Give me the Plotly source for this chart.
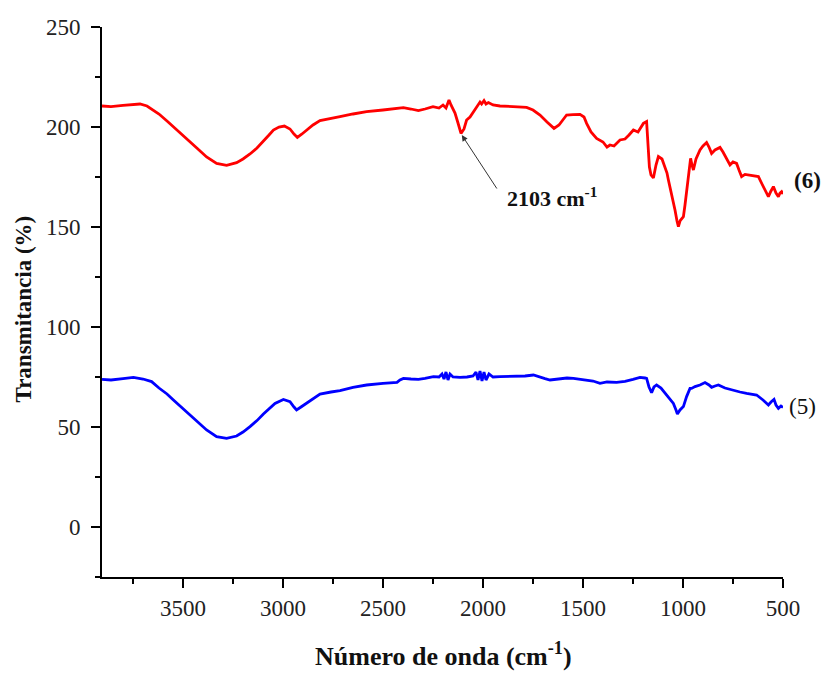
import plotly.graph_objects as go

# Sample (6) - red
wn6 = [3905, 3860, 3800, 3750, 3715, 3680, 3657, 3620, 3580, 3548, 3510, 3465, 3420, 3382, 3332, 3282,
       3232, 3200, 3165, 3130, 3098, 3070, 3048, 3020, 2993, 2965, 2945, 2928, 2905, 2882, 2850, 2815,
       2760, 2715, 2650, 2582, 2500, 2440, 2398, 2360, 2323, 2290, 2250, 2220, 2200, 2185, 2170, 2160,
       2150, 2140, 2125, 2110, 2095, 2082, 2065, 2048, 2030, 2015, 2007, 1995, 1985, 1973, 1950, 1915,
       1850, 1782, 1750, 1715, 1680, 1645, 1620, 1582, 1550, 1515, 1495, 1482, 1460, 1432, 1400, 1380,
       1365, 1345, 1315, 1290, 1270, 1248, 1225, 1198, 1182, 1175, 1168, 1160, 1148, 1135, 1123, 1105,
       1090, 1080, 1073, 1065, 1057, 1048, 1040, 1030, 1023, 1015, 998, 990, 982, 970, 962, 955,
       948, 935, 915, 900, 882, 870, 857, 840, 815, 800, 780, 765, 750, 732, 720, 707,
       690, 665, 645, 623, 605, 590, 573, 560, 548, 535, 523, 515, 507, 500]
t6 = [210.5, 210.2, 210.8, 211.3, 211.5, 210.5, 209.0, 206.5, 203.0, 200.0, 196.5, 192.7, 188.5, 185.0, 181.8, 180.8,
      182.2, 184.0, 186.5, 189.5, 192.7, 196.0, 198.5, 200.0, 200.5, 199.0, 196.5, 194.8, 196.5, 198.5, 201.0, 203.2,
      204.5, 205.2, 206.5, 207.7, 208.5, 209.2, 209.7, 209.0, 208.2, 209.0, 210.2, 209.5, 211.0, 209.5, 213.5, 211.0,
      209.0, 207.0, 202.0, 196.8, 199.0, 203.5, 205.0, 207.7, 210.0, 212.5, 211.5, 213.2, 211.5, 212.2, 211.0, 210.5,
      210.2, 209.8, 208.5, 206.0, 202.5, 199.3, 201.0, 206.0, 206.2, 206.3, 205.0, 201.8, 197.5, 194.3, 192.5, 190.0,
      191.0, 190.5, 193.5, 194.0, 196.0, 198.5, 197.5, 201.8, 202.7, 190.0, 180.0, 176.0, 174.5, 181.0, 185.2, 184.0,
      180.2, 177.0, 173.5, 170.0, 166.8, 162.0, 158.5, 153.0, 150.2, 153.0, 155.2, 161.0, 168.5, 178.0, 184.3, 181.0,
      178.5, 184.0, 188.5, 190.5, 192.2, 190.0, 186.8, 188.5, 189.8, 187.5, 184.0, 181.0, 182.5, 181.8, 178.5, 175.2,
      176.3, 176.0, 175.8, 175.2, 171.5, 168.5, 165.2, 168.0, 170.2, 167.0, 165.2, 167.0, 167.7, 166.5]

# Sample (5) - blue
wn5 = [3905, 3860, 3800, 3748, 3700, 3657, 3620, 3580, 3548, 3510, 3465, 3420, 3382, 3332, 3282, 3232,
       3200, 3165, 3130, 3098, 3070, 3040, 2998, 2965, 2945, 2932, 2910, 2882, 2850, 2815, 2760, 2715,
       2650, 2582, 2500, 2430, 2415, 2398, 2360, 2323, 2290, 2248, 2220, 2205, 2195, 2185, 2175, 2165,
       2150, 2115, 2080, 2050, 2035, 2025, 2015, 2005, 1995, 1985, 1970, 1950, 1915, 1850, 1790, 1748,
       1720, 1690, 1665, 1620, 1580, 1548, 1500, 1450, 1415, 1380, 1332, 1290, 1250, 1215, 1190, 1182,
       1170, 1157, 1145, 1132, 1110, 1082, 1065, 1048, 1035, 1028, 1015, 998, 982, 965, 957, 940,
       915, 890, 870, 857, 840, 823, 790, 748, 715, 682, 655, 632, 600, 573, 560, 545,
       535, 523, 510, 500]
t5 = [73.8, 73.5, 74.2, 74.8, 74.0, 72.7, 69.5, 66.5, 63.5, 60.0, 56.0, 52.0, 48.5, 45.2, 44.3, 45.5,
      47.5, 50.2, 53.2, 56.5, 59.2, 61.8, 63.8, 62.7, 60.0, 58.5, 60.0, 61.8, 64.2, 66.5, 67.5, 68.2,
      69.8, 71.0, 71.8, 72.3, 73.5, 74.3, 74.0, 73.8, 74.3, 75.2, 75.0, 76.5, 74.0, 77.5, 73.5, 76.5,
      75.0, 74.8, 75.0, 75.5, 77.5, 73.5, 78.0, 73.0, 77.5, 73.5, 76.5, 75.0, 75.2, 75.3, 75.5, 76.0,
      75.0, 74.2, 73.5, 74.2, 74.5, 74.3, 73.8, 73.0, 71.8, 72.5, 72.3, 72.8, 73.8, 74.8, 74.5, 74.3,
      70.0, 67.2, 70.0, 71.0, 69.5, 66.0, 63.5, 61.8, 58.5, 56.5, 58.5, 60.2, 65.2, 69.3, 69.3, 70.2,
      71.0, 72.2, 71.0, 69.8, 70.5, 71.0, 69.5, 68.2, 67.5, 66.8, 66.3, 66.0, 63.5, 61.0, 62.5, 63.8,
      61.0, 59.3, 60.5, 59.8]

x_range = [3905, 500]
y_range = [-25, 250]
x_ticks = [3500, 3000, 2500, 2000, 1500, 1000, 500]
y_ticks = [0, 50, 100, 150, 200, 250]

SERIF = "Liberation Serif"

fig = go.Figure()
fig.add_trace(go.Scatter(x=wn6, y=t6, mode="lines", line=dict(color="#ff0000", width=2.8),
                         showlegend=False, hoverinfo="skip"))
fig.add_trace(go.Scatter(x=wn5, y=t5, mode="lines", line=dict(color="#0000ff", width=2.8),
                         showlegend=False, hoverinfo="skip"))

axis_common = dict(
    showline=True, linecolor="black", linewidth=2, mirror=False,
    showgrid=False, zeroline=False,
    ticks="outside", ticklen=9, tickwidth=2, tickcolor="black",
    tickfont=dict(family=SERIF, size=23, color="#222222"),
)

fig.update_xaxes(range=x_range, autorange=False, tickvals=x_ticks,
                 minor=dict(ticks="outside", ticklen=5, tickwidth=2, tickcolor="black", dtick=250),
                 **axis_common)
fig.update_yaxes(range=y_range, autorange=False, tickvals=y_ticks, ticklabelstandoff=6,
                 minor=dict(ticks="outside", ticklen=5, tickwidth=2, tickcolor="black", dtick=25, tick0=0),
                 **axis_common)

annotations = [
    dict(text="<b>Transmitancia (%)</b>", xref="paper", yref="paper", x=-0.1155, y=0.487,
         textangle=-90, showarrow=False, xanchor="center", yanchor="middle",
         font=dict(family=SERIF, size=23, color="#111111")),
    dict(text="<b>Número de onda (cm<sup>-1</sup>)</b>", xref="paper", yref="paper", x=0.501, y=-0.141,
         showarrow=False, xanchor="center", yanchor="middle",
         font=dict(family=SERIF, size=26, color="#111111")),
    dict(text="", x=2106, y=196, xref="x", yref="y", showarrow=True, ax=36, ay=55,
         arrowhead=2, arrowsize=1.2, arrowwidth=1, arrowcolor="#333333", standoff=0),
    dict(text="<b>2103 cm<sup>-1</sup></b>", x=1890, y=165, xref="x", yref="y", showarrow=False,
         xanchor="left", yanchor="middle", font=dict(family=SERIF, size=22, color="#111111")),
    dict(text="<b>(6)</b>", x=1.0367, y=0.7218, xref="paper", yref="paper", showarrow=False,
         xanchor="center", yanchor="middle", font=dict(family=SERIF, size=23, color="#111111")),
    dict(text="(5)", x=1.0286, y=0.3109, xref="paper", yref="paper", showarrow=False,
         xanchor="center", yanchor="middle", font=dict(family=SERIF, size=23, color="#111111")),
]

fig.update_layout(
    width=826, height=673,
    margin=dict(l=102, r=43, t=27, b=96),
    paper_bgcolor="white", plot_bgcolor="white",
    annotations=annotations,
)

fig.write_html("out.html", config={"displayModeBar": False},
               post_script="document.body.style.margin='0';document.body.style.overflow='hidden';")
